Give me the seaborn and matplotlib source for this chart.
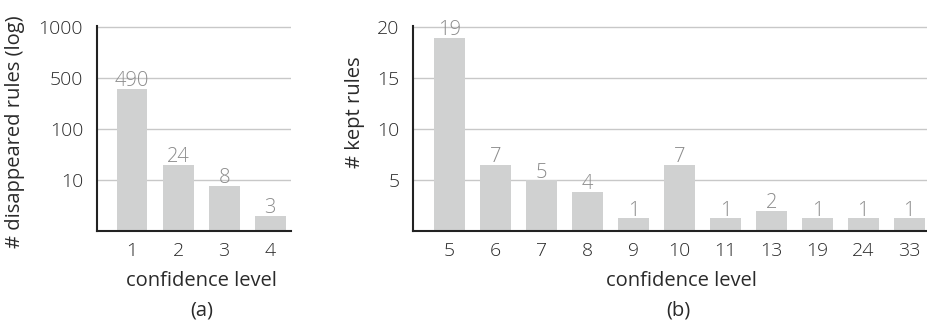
import matplotlib
matplotlib.use("Agg")
import matplotlib.pyplot as plt
import seaborn as sns
import pandas as pd

# ---- data ----
levels_a = ["1", "2", "3", "4"]
heights_a = [2.78, 1.29, 0.89, 0.29]          # drawn bar heights in log-tick units
labels_a = ["490", "24", "8", "3"]
yticks_a = [1, 2, 3, 4]
yticklabels_a = ["10", "100", "500", "1000"]

levels_b = ["5", "6", "7", "8", "9", "10", "11", "13", "19", "24", "33"]
heights_b = [18.9, 6.44, 4.95, 3.79, 1.23, 6.44, 1.23, 1.94, 1.23, 1.23, 1.23]
labels_b = ["19", "7", "5", "4", "1", "7", "1", "2", "1", "1", "1"]
yticks_b = [5, 10, 15, 20]

BAR = "#d0d1d1"
GRID = "#c8c8c8"
SPINE = "#222222"
TXT = "#2a2a2a"
ANN = "#8c8c8c"

sns.set_theme(style="white")
plt.rcParams["font.family"] = ["Open Sans", "DejaVu Sans"]

fig = plt.figure(figsize=(9.28, 3.25), dpi=100)
W, H = 928, 325
def axrect(x0, x1, ytop, ybot):
    return [x0 / W, (H - ybot) / H, (x1 - x0) / W, (ybot - ytop) / H]

ax1 = fig.add_axes(axrect(97, 291, 26, 231))
ax2 = fig.add_axes(axrect(413.3, 926.7, 26, 231))

df_a = pd.DataFrame({"level": levels_a, "h": heights_a})
df_b = pd.DataFrame({"level": levels_b, "h": heights_b})

sns.barplot(data=df_a, x="level", y="h", order=levels_a, color=BAR,
            width=0.67, saturation=1, ax=ax1, edgecolor="none")
sns.barplot(data=df_b, x="level", y="h", order=levels_b, color=BAR,
            width=0.67, saturation=1, ax=ax2, edgecolor="none")

TICK_FS = 14
LAB_FS = 14.5
ANN_FS = 14.5

def style(ax, yticks, yticklabels, ylim, xlim, ylabel):
    ax.set_ylim(*ylim)
    ax.set_xlim(*xlim)
    ax.set_yticks(yticks)
    ax.set_yticklabels(yticklabels)
    ax.set_axisbelow(True)
    ax.yaxis.grid(True, color=GRID, linewidth=1)
    ax.xaxis.grid(False)
    for s in ["top", "right"]:
        ax.spines[s].set_visible(False)
    for s in ["left", "bottom"]:
        ax.spines[s].set_color(SPINE)
        ax.spines[s].set_linewidth(1.5)
    ax.tick_params(axis="y", length=6.5, width=1, color=GRID, pad=3.5,
                   labelsize=TICK_FS, labelcolor=TXT)
    ax.tick_params(axis="x", length=0, pad=8, labelsize=TICK_FS, labelcolor=TXT)
    for t in ax.get_xticklabels() + ax.get_yticklabels():
        t.set_fontweight("light")
    ax.set_ylabel(ylabel, fontsize=LAB_FS, color=TXT)
    ax.yaxis.label.set_va("center")
    ax.set_xlabel("confidence level", fontsize=LAB_FS, color=TXT)
    ax.xaxis.label.set_va("center")

style(ax1, yticks_a, yticklabels_a, (0, 4.01), (-0.76, 3.45),
      "# disappeared rules (log)")
style(ax2, yticks_b, [str(v) for v in yticks_b], (0, 20.05), (-0.79, 10.38),
      "# kept rules")

ax1.yaxis.set_label_coords(-0.423, 0.483)
ax2.yaxis.set_label_coords(-0.1136, 0.58)
ax1.xaxis.set_label_coords(0.539, -0.244)
ax2.xaxis.set_label_coords(0.523, -0.244)

ax1.text(0.539, -0.39, "(a)", transform=ax1.transAxes, ha="center",
         va="center", fontsize=LAB_FS, color=TXT)
ax2.text(0.517, -0.39, "(b)", transform=ax2.transAxes, ha="center",
         va="center", fontsize=LAB_FS, color=TXT)

for ax, heights, labels in [(ax1, heights_a, labels_a), (ax2, heights_b, labels_b)]:
    for i, (h, lab) in enumerate(zip(heights, labels)):
        ax.annotate(lab, (i, h), xytext=(0, 2), textcoords="offset points",
                    ha="center", va="baseline", fontsize=ANN_FS, color=ANN,
                    fontweight="light")

fig.savefig("out.png", dpi=100)
